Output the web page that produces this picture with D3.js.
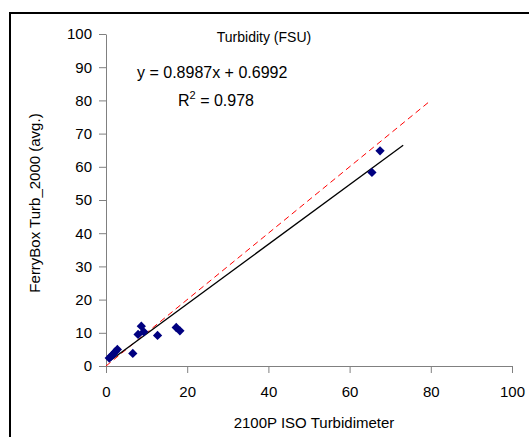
<!DOCTYPE html>
<html>
<head>
<meta charset="utf-8">
<script src="https://cdn.jsdelivr.net/npm/d3@7"></script>
<style>
body { margin: 0; background: #fff; }
text { font-family: "Liberation Sans", Arial, sans-serif; fill: #000; }
</style>
</head>
<body>
<div id="chart-area"></div>
<script>
// 2100P ISO (x) vs FerryBox Turb_2000 avg (y)
var isoValues = [0.8, 1.3, 1.8, 2.3, 2.8, 6.6, 7.9, 8.7, 9.3, 12.7, 17.3, 18.2, 65.5, 67.5]
var ferryValues = [2.4, 3.0, 3.6, 4.3, 5.0, 3.8, 9.5, 12.0, 10.3, 9.2, 11.6, 10.6, 58.3, 64.8]
var xTicks = [0, 20, 40, 60, 80, 100]
var yTicks = [0, 10, 20, 30, 40, 50, 60, 70, 80, 90, 100]
var slope = 0.8987
var intercept = 0.6992
var fitRange = [0.8, 73.2]
var oneToOne = [0, 80]

var width = 529
var height = 437
var margin = {top: 34, right: 17, bottom: 71, left: 106}
var innerW = width - margin.left - margin.right
var innerH = height - margin.top - margin.bottom

var svg = d3.select("#chart-area").append("svg")
.attr("width", width)
.attr("height", height)

// outer frame
svg.append("rect")
.attr("x", 10)
.attr("y", 13)
.attr("width", width)
.attr("height", height)
.attr("fill", "none")
.attr("stroke", "#000")
.attr("stroke-width", 2)

var g = svg.append("g")
.attr("transform", "translate(" + margin.left + ", " + margin.top + ")")

var x = d3.scaleLinear().domain([0, 100]).range([0, innerW])
var y = d3.scaleLinear().domain([0, 100]).range([innerH, 0])

var xAxis = g.append("g")
.attr("transform", "translate(0, " + innerH + ")")
.call(d3.axisBottom(x).tickValues(xTicks).tickSize(7).tickPadding(13).tickSizeOuter(0))

var yAxis = g.append("g")
.call(d3.axisLeft(y).tickValues(yTicks).tickSize(7).tickPadding(7).tickSizeOuter(0))

g.selectAll(".domain, .tick line").attr("stroke", "#808080")
g.selectAll(".tick text").attr("font-size", "15px").style("font-family", "Liberation Sans, Arial, sans-serif").attr("fill", "#000")

// 1:1 line
g.append("line")
.attr("x1", x(oneToOne[0])).attr("y1", y(oneToOne[0]))
.attr("x2", x(oneToOne[1])).attr("y2", y(oneToOne[1]))
.attr("stroke", "#ff0000")
.attr("stroke-width", 1)
.attr("stroke-dasharray", "6,4")

// regression line
g.append("line")
.attr("x1", x(fitRange[0])).attr("y1", y(slope * fitRange[0] + intercept))
.attr("x2", x(fitRange[1])).attr("y2", y(slope * fitRange[1] + intercept))
.attr("stroke", "#000")
.attr("stroke-width", 1.3)

var points = isoValues.map((v, i) => ({x: v, y: ferryValues[i]}))

g.selectAll("path.pt")
.data(points)
.enter().append("path")
.attr("class", "pt")
.attr("d", d3.symbol().type(d3.symbolDiamond2).size(55))
.attr("transform", d => "translate(" + x(d.x) + "," + y(d.y) + ")")
.attr("fill", "#000080")

// titles
svg.append("text")
.attr("x", 264)
.attr("y", 42)
.attr("text-anchor", "middle")
.attr("font-size", "14px")
.text("Turbidity (FSU)")

svg.append("text")
.attr("x", 137)
.attr("y", 78)
.attr("font-size", "16px")
.text("y = " + slope + "x + " + intercept)

var r2 = svg.append("text")
.attr("x", 178)
.attr("y", 106)
.attr("font-size", "16px")
r2.append("tspan").text("R")
r2.append("tspan").attr("dy", -7).attr("font-size", "11px").text("2")
r2.append("tspan").attr("dy", 7).text(" = 0.978")

svg.append("text")
.attr("x", 314)
.attr("y", 428)
.attr("text-anchor", "middle")
.attr("font-size", "15px")
.text("2100P ISO Turbidimeter")

svg.append("text")
.attr("transform", "translate(40, 203) rotate(-90)")
.attr("text-anchor", "middle")
.attr("font-size", "15px")
.text("FerryBox Turb_2000 (avg.)")
</script>
</body>
</html>
